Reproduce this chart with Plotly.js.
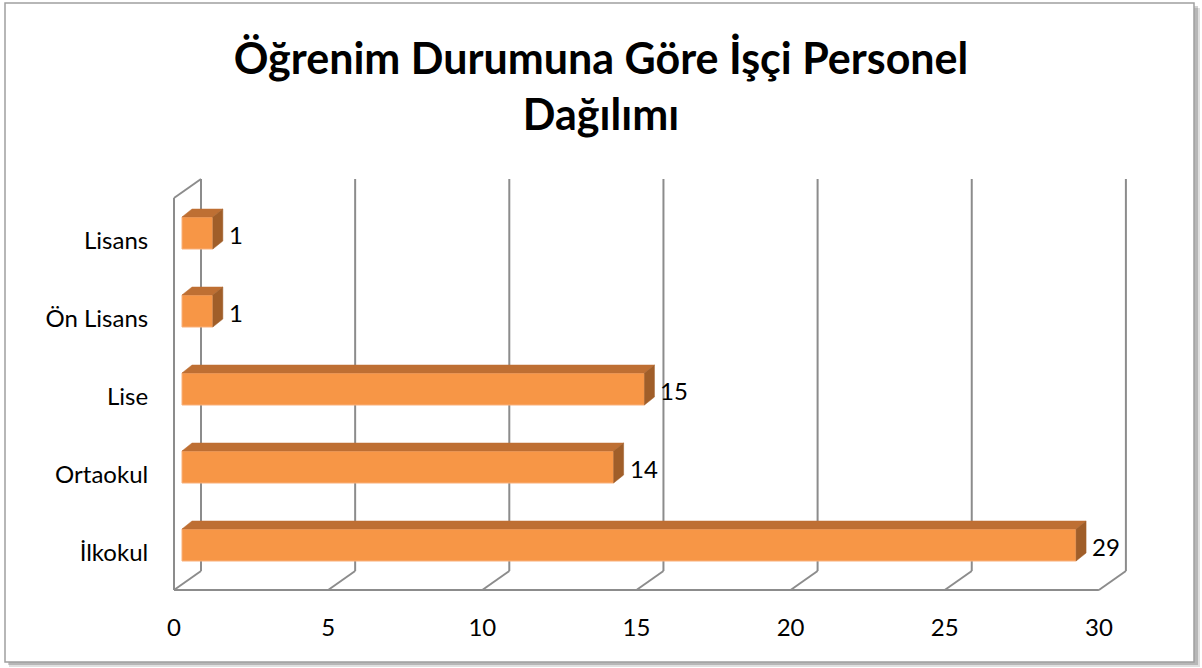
<!DOCTYPE html>
<html>
<head>
<meta charset="utf-8">
<script src="https://cdn.plot.ly/plotly-3.0.1.min.js"></script>
<style>html,body{margin:0;padding:0;background:#fff;}#chart{width:1202px;height:668px;}</style>
</head>
<body>
<div id="chart"></div>
<script>
// ---- data ----
const categories = ['İlkokul', 'Ortaokul', 'Lise', 'Ön Lisans', 'Lisans'];
const counts = [29, 14, 15, 1, 1];
const xTickValues = [0, 5, 10, 15, 20, 25, 30];
const chartTitle = 'Öğrenim Durumuna Göre İşçi Personel<br>Dağılımı';

// ---- geometry (pixels) ----
const W = 1202, H = 668;
const PL = 170, PR = 1130, PT = 175, PB = 594;
const PPU_X = 30.83;   // px per unit on x (bar depth)
const PPU_Y = 78;      // px per category
const X0 = 182;        // px of value 0 at bar depth
const Y0 = 553;        // px of category 0 label
const dX = px => (px - X0) / PPU_X;
const dY = py => (Y0 - py) / PPU_Y;
const pX = px => (px - PL) / (PR - PL);
const pY = py => (PB - py) / (PB - PT);

const FRONT = -8 / PPU_X, BACK = 19 / PPU_X;
const yFront = dY(590), yBack = dY(571), yTop = dY(179), yLeftTop = dY(198);
const gridColor = '#8c8c8c';

const shapes = [];
// frame shadow + box
shapes.push({type:'rect', xref:'paper', yref:'paper', x0:pX(9), x1:pX(1200), y0:pY(8), y1:pY(667), fillcolor:'rgba(0,0,0,0.12)', line:{width:0}, layer:'below'});
shapes.push({type:'rect', xref:'paper', yref:'paper', x0:pX(8), x1:pX(1198), y0:pY(6), y1:pY(665), fillcolor:'rgba(0,0,0,0.18)', line:{width:0}, layer:'below'});
shapes.push({type:'rect', xref:'paper', yref:'paper', x0:pX(5), x1:pX(1194), y0:pY(3), y1:pY(662), fillcolor:'#ffffff', line:{color:'#a0a0a0', width:1.5}, layer:'below'});
// back wall gridlines and floor diagonals
xTickValues.forEach(v => {
  shapes.push({type:'line', xref:'x', yref:'y', x0:v+BACK, x1:v+BACK, y0:yBack, y1:yTop, line:{color:gridColor, width:2}, layer:'below'});
  shapes.push({type:'line', xref:'x', yref:'y', x0:v+FRONT, x1:v+BACK, y0:yFront, y1:yBack, line:{color:gridColor, width:2}, layer:'below'});
});
// front floor edge
shapes.push({type:'line', xref:'x', yref:'y', x0:xTickValues[0]+FRONT, x1:xTickValues[xTickValues.length-1]+FRONT, y0:yFront, y1:yFront, line:{color:gridColor, width:2}, layer:'below'});
// left wall front edge + top diagonal
shapes.push({type:'line', xref:'x', yref:'y', x0:FRONT, x1:FRONT, y0:yFront, y1:yLeftTop, line:{color:gridColor, width:2}, layer:'below'});
shapes.push({type:'line', xref:'x', yref:'y', x0:FRONT, x1:BACK, y0:yLeftTop, y1:yTop, line:{color:gridColor, width:2}, layer:'below'});

// bars 3D faces
const barW = 32 / PPU_Y;
const barOff = 8 / PPU_Y - barW / 2;
const depX = 10 / PPU_X, depY = 8 / PPU_Y;
const yIdx = categories.map((c, i) => i);
counts.forEach((v, i) => {
  const yb = i + barOff, yt = i + barOff + barW;
  shapes.push({type:'path', xref:'x', yref:'y', layer:'above',
    path:`M0,${yt} L${v},${yt} L${v+depX},${yt+depY} L${depX},${yt+depY} Z`,
    fillcolor:'#BE6F33', line:{color:'#BE6F33', width:0.5}});
  shapes.push({type:'path', xref:'x', yref:'y', layer:'above',
    path:`M${v},${yb} L${v},${yt} L${v+depX},${yt+depY} L${v+depX},${yb+depY} Z`,
    fillcolor:'#A05E29', line:{color:'#A05E29', width:0.5}});
});

const annotations = counts.map((v, i) => ({
  x: v, y: i, xref:'x', yref:'y', text: String(v), showarrow:false,
  xanchor:'left', yanchor:'middle', xshift: 14, yshift: 7,
  font:{family:'Lato, sans-serif', size:24, color:'#000'}
}));

const trace = {
  type:'bar', orientation:'h', x: counts, y: yIdx,
  width: barW, offset: barOff,
  marker:{color:'#F79646', line:{color:'#F9B07A', width:1}},
  hoverinfo:'none'
};

const layout = {
  width: W, height: H,
  margin:{l:PL, r:W-PR, t:PT, b:H-PB, pad:0},
  paper_bgcolor:'#ffffff', plot_bgcolor:'rgba(0,0,0,0)',
  showlegend:false,
  title:{text: chartTitle, x:0.5, xref:'container', xanchor:'center', y:1-74/H, yref:'container', yanchor:'top',
    font:{family:'Lato, sans-serif', size:43, color:'#000', weight:700}},
  xaxis:{range:[dX(PL), dX(PR)], tickvals:xTickValues, ticktext:xTickValues.map(String),
    showgrid:false, zeroline:false, showline:false, ticks:'outside', ticklen:12, tickcolor:'rgba(0,0,0,0)',
    ticklabelshift:-8, tickfont:{family:'Lato, sans-serif', size:24, color:'#000'}},
  yaxis:{range:[dY(PB), dY(PT)], tickvals:yIdx, ticktext:categories,
    showgrid:false, zeroline:false, showline:false, ticks:'outside', ticklen:16, tickcolor:'rgba(0,0,0,0)',
    tickfont:{family:'Lato, sans-serif', size:24, color:'#000'}},
  shapes: shapes, annotations: annotations
};

Plotly.newPlot('chart', [trace], layout, {displayModeBar:false, staticPlot:true});
</script>
</body>
</html>
